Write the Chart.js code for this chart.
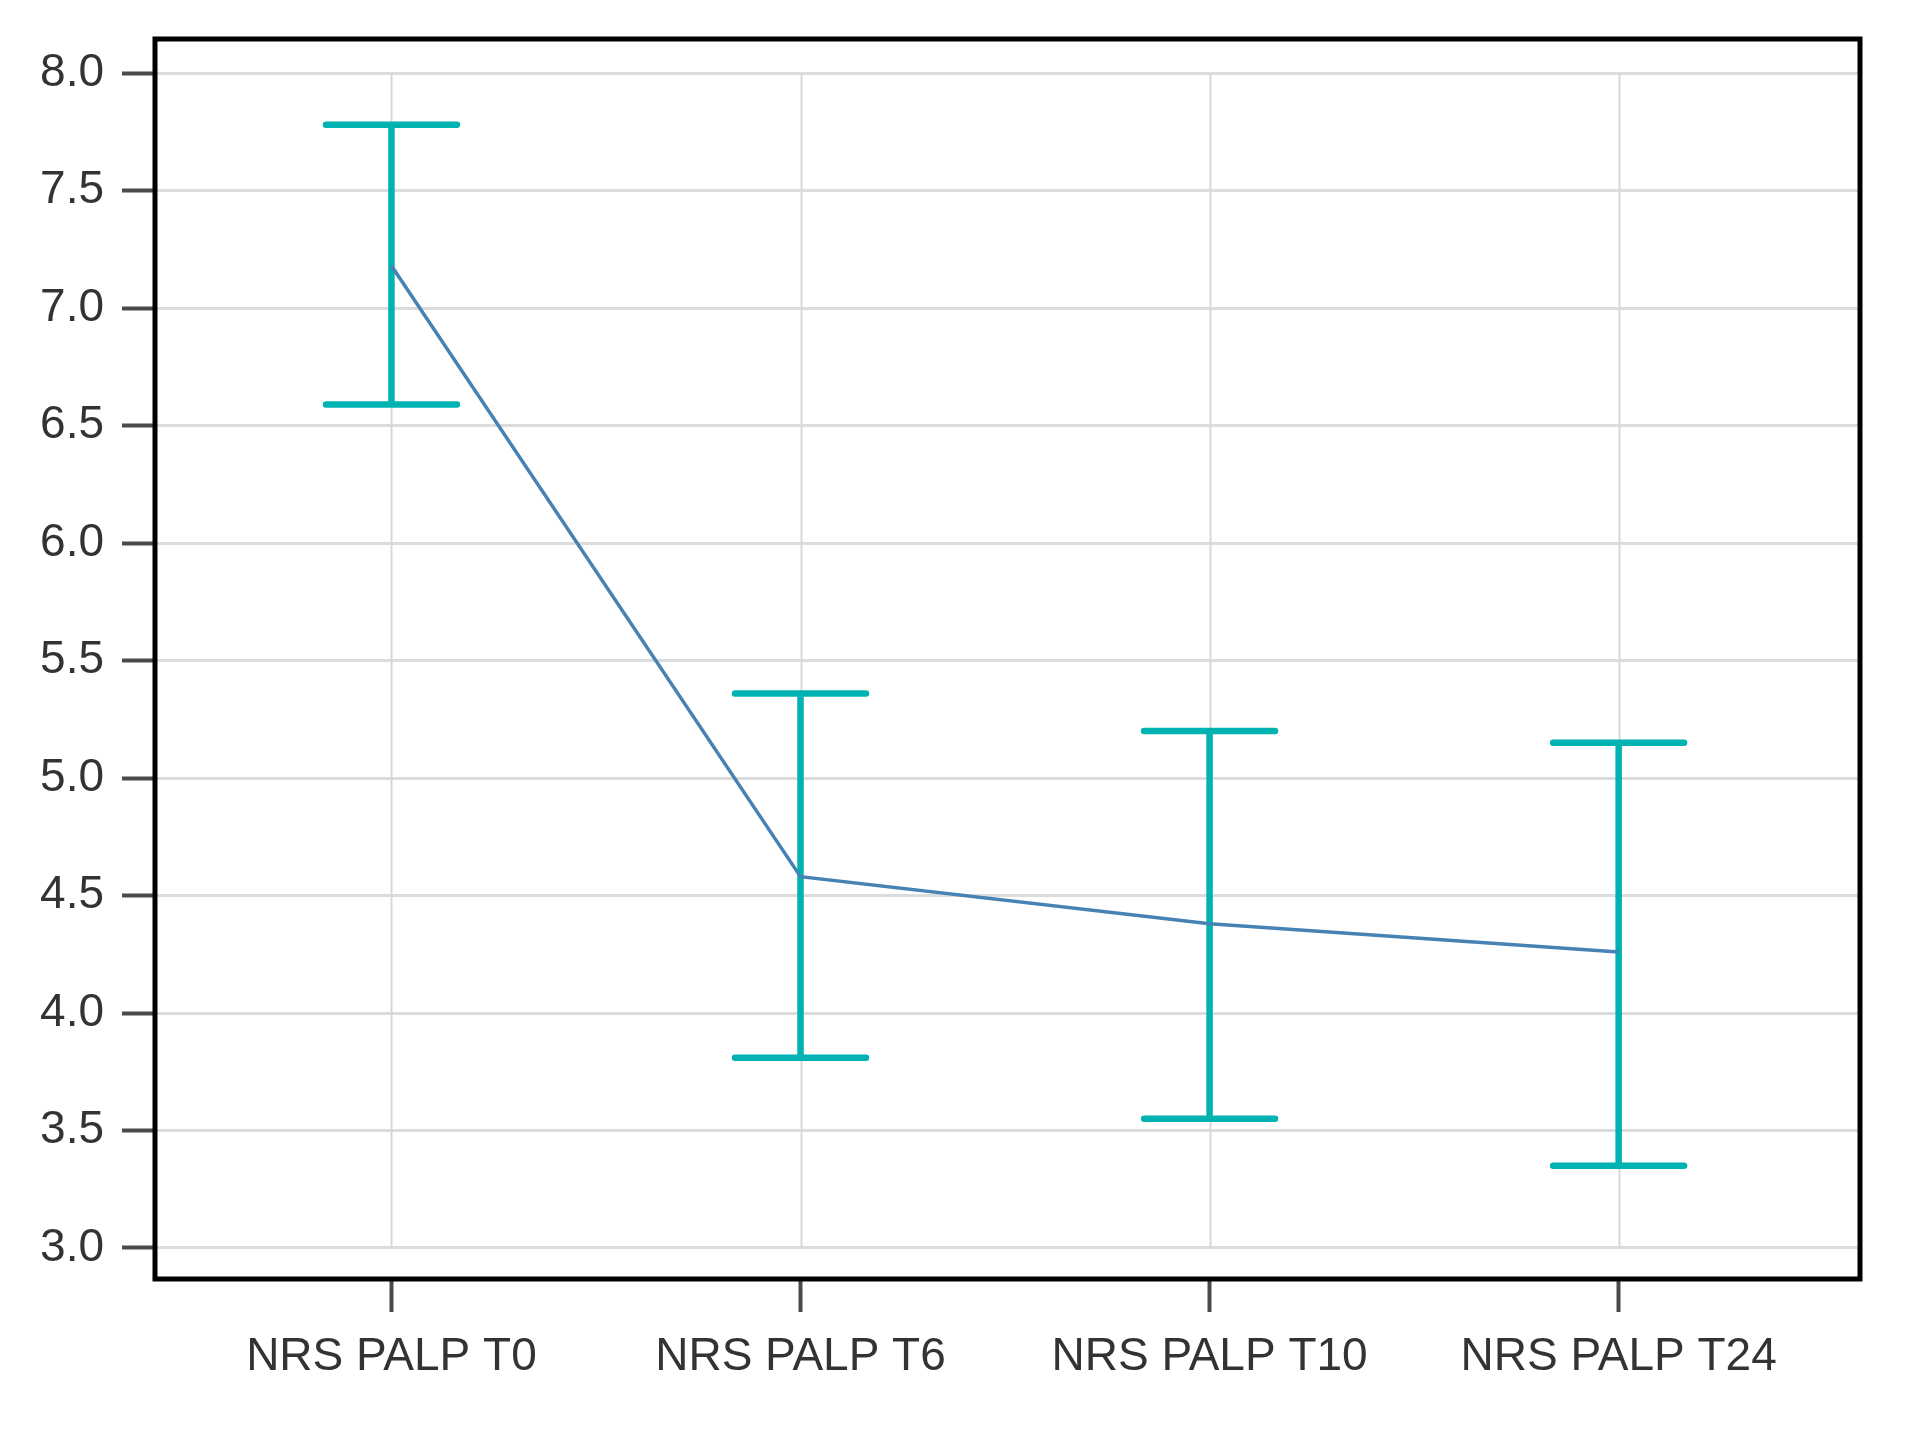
<!DOCTYPE html>
<html>
<head>
<meta charset="utf-8">
<script src="https://cdn.jsdelivr.net/npm/chart.js@4.4.1/dist/chart.umd.min.js"></script>
<style>
	html, body { margin: 0; padding: 0; background: #fff; }
	#wrap { width: 1910px; height: 1433px; position: relative; }
</style>
</head>
<body>
<div id="wrap"><canvas id="nrs_chart"></canvas></div>
<script>
var nrs_labels = ["NRS PALP T0", "NRS PALP T6", "NRS PALP T10", "NRS PALP T24"];
var nrs_mean = [7.18, 4.58, 4.38, 4.26];
var nrs_upper = [7.78, 5.36, 5.20, 5.15];
var nrs_lower = [6.59, 3.81, 3.55, 3.35];
var y_ticks = [3.0, 3.5, 4.0, 4.5, 5.0, 5.5, 6.0, 6.5, 7.0, 7.5, 8.0];

var line_color = "#4682b4";
var bar_color = "#00b2b2";

// error bars + frame, drawn with the chart's own scales
var errbar_plugin = {
	id: "errbars",
	beforeDatasetsDraw: function(chart) {
		var ctx = chart.ctx;
		var xs = chart.scales.x, ys = chart.scales.y;
		var top = ys.getPixelForValue(y_ticks[y_ticks.length - 1]);
		var bot = ys.getPixelForValue(y_ticks[0]);
		ctx.save();
		// vertical grid only between the first and last y tick
		ctx.strokeStyle = "#d8d8d8";
		ctx.lineWidth = 2;
		for (var i = 0; i < nrs_labels.length; i++) {
			var gx = Math.round(xs.getPixelForValue(i)) + 0.5;
			ctx.beginPath();
			ctx.moveTo(gx, top);
			ctx.lineTo(gx, bot);
			ctx.stroke();
		}
		ctx.strokeStyle = bar_color;
		ctx.lineWidth = 6.5;
		ctx.lineCap = "round";
		var cap = 0.16;
		for (var i = 0; i < nrs_mean.length; i++) {
			var x = xs.getPixelForValue(i);
			var xl = xs.getPixelForValue(i - cap), xr = xs.getPixelForValue(i + cap);
			var yu = ys.getPixelForValue(nrs_upper[i]), yl = ys.getPixelForValue(nrs_lower[i]);
			ctx.beginPath();
			ctx.moveTo(x, yu); ctx.lineTo(x, yl);
			ctx.moveTo(xl, yu); ctx.lineTo(xr, yu);
			ctx.moveTo(xl, yl); ctx.lineTo(xr, yl);
			ctx.stroke();
		}
		ctx.restore();
	},
	afterDraw: function(chart) {
		var a = chart.chartArea, ctx = chart.ctx;
		ctx.save();
		ctx.strokeStyle = "#000";
		ctx.lineWidth = 5;
		ctx.strokeRect(a.left, a.top, a.right - a.left, a.bottom - a.top);
		ctx.restore();
	}
};

var nrs_data = {
	datasets: [{
		data: nrs_mean.map(function(v, i) { return { x: i, y: v }; }),
		borderColor: line_color,
		borderWidth: 3.5,
		pointRadius: 0,
		fill: false,
		tension: 0
	}]
};

var tick_font = { family: "'Liberation Sans', Arial, sans-serif", size: 46, lineHeight: 1 };

var nrs_options = {
	responsive: true,
	maintainAspectRatio: false,
	animation: false,
	layout: { padding: { top: 39, right: 50, left: 0, bottom: 0 } },
	plugins: {
		legend: { display: false },
		title: { display: false },
		tooltip: { enabled: false }
	},
	scales: {
		x: {
			type: "linear",
			min: -0.578,
			max: 3.59,
			afterBuildTicks: function(scale) {
				scale.ticks = nrs_labels.map(function(l, i) { return { value: i }; });
			},
			afterFit: function(scale) { scale.height = 154; },
			ticks: {
				callback: function(v) { return nrs_labels[v]; },
				color: "#333",
				font: tick_font,
				padding: 22,
				maxRotation: 0,
				autoSkip: false
			},
			grid: {
				drawOnChartArea: false,
				drawTicks: true,
				tickLength: 33,
				tickColor: "#4a4a4a",
				tickWidth: 4
			},
			border: { display: false }
		},
		y: {
			type: "linear",
			min: 2.868,
			max: 8.145,
			afterBuildTicks: function(scale) {
				scale.ticks = y_ticks.map(function(v) { return { value: v }; });
			},
			afterFit: function(scale) {
				scale.width = 155;
				scale.paddingTop = 0;
				scale.paddingBottom = 0;
			},
			ticks: {
				callback: function(v) { return v.toFixed(1); },
				color: "#333",
				font: tick_font,
				padding: 18
			},
			grid: {
				color: "#dcdcdc",
				lineWidth: 3,
				tickLength: 33,
				tickColor: "#4a4a4a",
				tickWidth: 4
			},
			border: { display: false }
		}
	}
};

var chart = new Chart(document.getElementById("nrs_chart"), {
	type: "line",
	data: nrs_data,
	options: nrs_options,
	plugins: [errbar_plugin]
});
</script>
</body>
</html>
